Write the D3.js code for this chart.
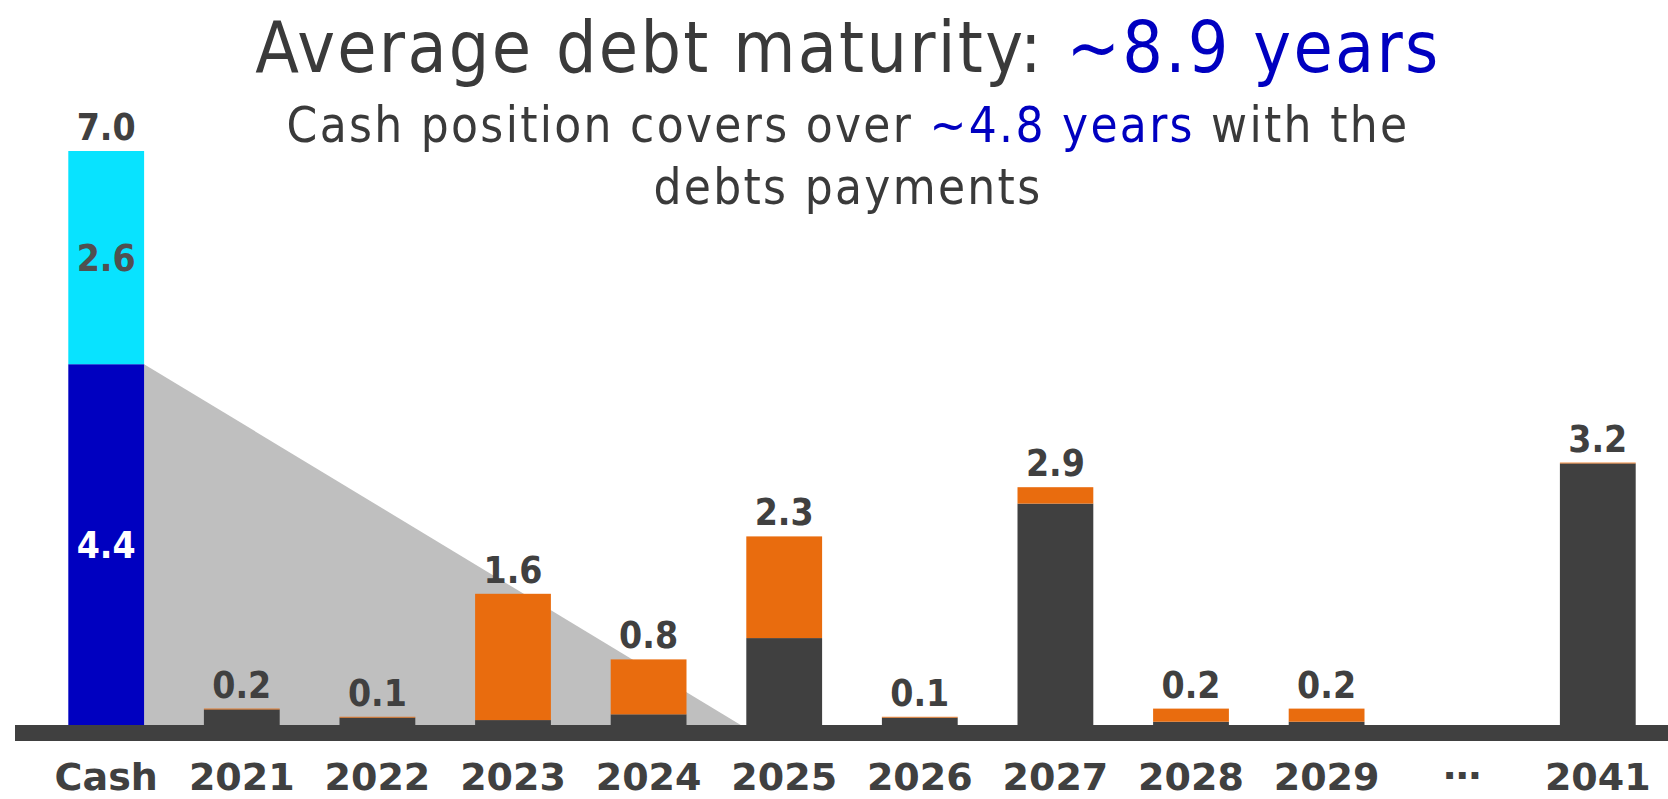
<!DOCTYPE html>
<html>
<head>
<meta charset="utf-8">
<script src="https://cdn.jsdelivr.net/npm/d3@7"></script>
<style>
  html, body { margin: 0; padding: 0; background: #ffffff; }
  svg { display: block; }
</style>
</head>
<body>
<svg id="chart" width="1668" height="799"></svg>
<script>
// Categories along the x axis
const categories = ["Cash", "2021", "2022", "2023", "2024", "2025", "2026", "2027", "2028", "2029", "…", "2041"];

// Cash position split (billions)
const cashAvailable = 4.4;
const cashOther = 2.6;

// Debt repayments per year, two stacked components (null = no bar)
const debtBase  = [null, 0.19, 0.09, 0.06, 0.13, 1.06, 0.09, 2.70, 0.04, 0.04, null, 3.19];
const debtAdded = [null, 0.01, 0.01, 1.54, 0.67, 1.24, 0.01, 0.20, 0.16, 0.16, null, 0.01];

// Headline texts
const titleParts = [["Average debt maturity: ", "#3a3a3a"], ["~8.9 years", "#0000c0"]];
const subtitleLine1 = [["Cash position covers over ", "#3a3a3a"], ["~4.8 years", "#0000c0"], [" with the", "#3a3a3a"]];
const subtitleLine2 = [["debts payments", "#3a3a3a"]];

const W = 1668, H = 799;
const colors = {
  dark: "#404040",
  orange: "#e96c0e",
  blue: "#0000c0",
  cyan: "#08e3ff",
  shade: "#bfbfbf",
  text: "#404040"
};
const labelFont = "'DejaVu Sans Condensed', 'DejaVu Sans', sans-serif";

const svg = d3.select("#chart");

const x = d3.scaleBand()
  .domain(categories)
  .range([68.3, 1635.7])
  .paddingInner(0.441)
  .paddingOuter(0);

const baseY = 725;
const y = d3.scaleLinear().domain([0, 7]).range([baseY, baseY - 7 * 82]);

const bw = x.bandwidth();
const step = x.step();

// Shaded coverage wedge from the available cash to the years it covers
const wedgeX0 = x("Cash") + bw;
const wedgeX1 = wedgeX0 + cashAvailable * step;
svg.append("path")
  .attr("d", d3.line()([[wedgeX0, y(cashAvailable)], [wedgeX0, y(0)], [wedgeX1, y(0)]]) + "Z")
  .attr("fill", colors.shade);

// Cash bar: available part and remaining part
const cashStack = [
  { v0: 0, v1: cashAvailable, fill: colors.blue, labelFill: "#ffffff" },
  { v0: cashAvailable, v1: cashAvailable + cashOther, fill: colors.cyan, labelFill: "#505050" }
];
const cashG = svg.append("g");
cashG.selectAll("rect").data(cashStack).join("rect")
  .attr("x", x("Cash"))
  .attr("width", bw)
  .attr("y", d => y(d.v1))
  .attr("height", d => y(d.v0) - y(d.v1))
  .attr("fill", d => d.fill);
cashG.selectAll("text").data(cashStack).join("text")
  .attr("x", x("Cash") + bw / 2)
  .attr("y", d => (y(d.v0) + y(d.v1)) / 2)
  .attr("dy", "0.36em")
  .attr("text-anchor", "middle")
  .attr("font-family", labelFont)
  .attr("font-weight", "bold")
  .attr("font-size", 37)
  .attr("fill", d => d.labelFill)
  .text(d => d3.format(".1f")(d.v1 - d.v0));
cashG.append("text")
  .attr("x", x("Cash") + bw / 2)
  .attr("y", y(cashAvailable + cashOther) - 11)
  .attr("text-anchor", "middle")
  .attr("font-family", labelFont)
  .attr("font-weight", "bold")
  .attr("font-size", 37)
  .attr("fill", colors.text)
  .text(d3.format(".1f")(cashAvailable + cashOther));

// Debt bars
const debtRows = categories.map((c, i) => ({ c, base: debtBase[i], added: debtAdded[i] }))
  .filter(d => d.base != null);

const debtG = svg.append("g");
const barG = debtG.selectAll("g").data(debtRows).join("g");
barG.append("rect")
  .attr("x", d => x(d.c))
  .attr("width", bw)
  .attr("y", d => y(d.base))
  .attr("height", d => y(0) - y(d.base))
  .attr("fill", colors.dark);
barG.append("rect")
  .attr("x", d => x(d.c))
  .attr("width", bw)
  .attr("y", d => y(d.base + d.added))
  .attr("height", d => y(d.base) - y(d.base + d.added))
  .attr("fill", colors.orange);
barG.append("text")
  .attr("x", d => x(d.c) + bw / 2)
  .attr("y", d => y(d.base + d.added) - 11)
  .attr("text-anchor", "middle")
  .attr("font-family", labelFont)
  .attr("font-weight", "bold")
  .attr("font-size", 37)
  .attr("fill", colors.text)
  .text(d => d3.format(".1f")(d.base + d.added));

// Thick baseline
svg.append("rect")
  .attr("x", 15)
  .attr("y", y(0))
  .attr("width", W - 15)
  .attr("height", 16)
  .attr("fill", colors.dark);

// Category axis
const axis = svg.append("g")
  .attr("transform", `translate(0, ${y(0) + 16})`)
  .call(d3.axisBottom(x).tickSize(0).tickPadding(0));
axis.select(".domain").remove();
axis.selectAll("text")
  .attr("y", 49)
  .attr("dy", 0)
  .attr("font-family", "'DejaVu Sans', sans-serif")
  .attr("font-weight", "bold")
  .attr("font-size", 38)
  .attr("fill", colors.text)
  .filter(d => d === "…")
  .attr("dy", -11);

// Headline
function richLine(parts, yPos, size) {
  const t = svg.append("text")
    .attr("x", 848)
    .attr("y", yPos)
    .attr("text-anchor", "middle")
    .attr("font-family", "'DejaVu Sans Condensed', 'DejaVu Sans', sans-serif")
    .attr("font-size", size)
    .attr("letter-spacing", 2.3);
  t.selectAll("tspan").data(parts).join("tspan")
    .attr("fill", d => d[1])
    .style("white-space", "pre")
    .text(d => d[0]);
  return t;
}
svg.style("white-space", "pre");
richLine(titleParts, 71.7, 71);
richLine(subtitleLine1, 141.7, 49);
richLine(subtitleLine2, 204, 49);
</script>
</body>
</html>
